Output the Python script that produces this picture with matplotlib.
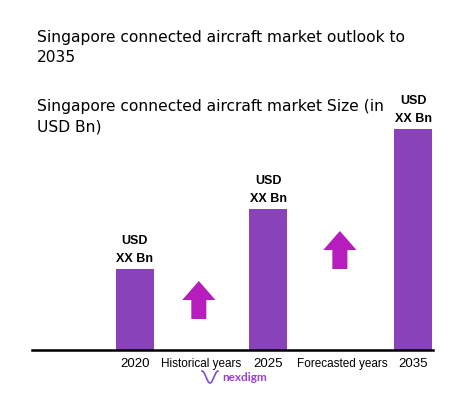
import matplotlib
matplotlib.use("Agg")
import matplotlib.pyplot as plt
import numpy as np
from matplotlib.patches import FancyArrow

# values are placeholders in the source ("USD XX Bn"); heights
years = ["2020", "2025", "2035"]
sizes = [81, 141, 221]
bar_labels = ["USD\nXX Bn", "USD\nXX Bn", "USD\nXX Bn"]
period_labels = ["Historical years", "Forecasted years"]

BAR_COLOR = "#8942B9"
ARROW_COLOR = "#B51EBD"
FONT = ["DejaVu Sans"]
LBL_FONT = ["Liberation Sans", "DejaVu Sans"]

W, H = 477, 410
fig = plt.figure(figsize=(W / 100, H / 100), dpi=100)

# axes laid out in pixel terms of the reference: baseline at y=351, line from x=32 to 433
ax_left, ax_right, ax_base, ax_top = 32, 433, 351, 100
ax = fig.add_axes([ax_left / W, (H - ax_base) / H, (ax_right - ax_left) / W, (ax_base - ax_top) / H])

xpos = np.array([0.0, 1.0, 2.09])
period_pos = [0.5, 1.56]
ax.bar(xpos, sizes, width=0.286, color=BAR_COLOR)
ax.set_xlim(-0.774, 2.24)
ax.set_ylim(0, ax_base - ax_top)

for x, v, lab in zip(xpos, sizes, bar_labels):
    ax.text(x, v + 5, lab, ha="center", va="bottom", fontsize=9, fontweight="bold",
            family=LBL_FONT, linespacing=1.7, clip_on=False)

# growth arrows between the bars
for (xc, y0) in [(0.48, 31), (1.54, 81)]:
    ax.add_patch(FancyArrow(xc, y0, 0, 38, width=0.113, head_width=0.25, head_length=19,
                            length_includes_head=True, color=ARROW_COLOR, lw=0))

ticks = list(xpos) + period_pos
labels = years + period_labels
ax.set_xticks(ticks)
ax.set_xticklabels(labels, fontsize=9.5, family=LBL_FONT)
for t in ax.get_xticklabels()[3:]:
    t.set_fontsize(8.5)
ax.tick_params(axis="x", length=0, pad=5)
ax.set_yticks([])
for s in ["top", "right", "left"]:
    ax.spines[s].set_visible(False)
ax.spines["bottom"].set_linewidth(1.8)

fig.text(37 / W, 1 - 30 / H, "Singapore connected aircraft market outlook to\n2035",
         ha="left", va="top", fontsize=11.2, family=FONT, linespacing=1.45)
fig.text(37 / W, 1 - 99 / H, "Singapore connected aircraft market Size (in\nUSD Bn)",
         ha="left", va="top", fontsize=11.2, family=FONT, linespacing=1.45)

# logo
fig.text(222 / W, 1 - 378 / H, "nexdigm", ha="left", va="center", fontsize=8.5,
         color="#9A3FD6", family=["Lato", "DejaVu Sans"], fontweight="bold")
lx = np.linspace(202, 218, 40)
ly = 378 - 6 * np.cos((lx - 202) / 16 * 2 * np.pi)
fig.add_artist(plt.Line2D(lx / W, 1 - ly / H, color="#7A4FD0", lw=1.2, transform=fig.transFigure))

fig.savefig("out.png", dpi=100)
